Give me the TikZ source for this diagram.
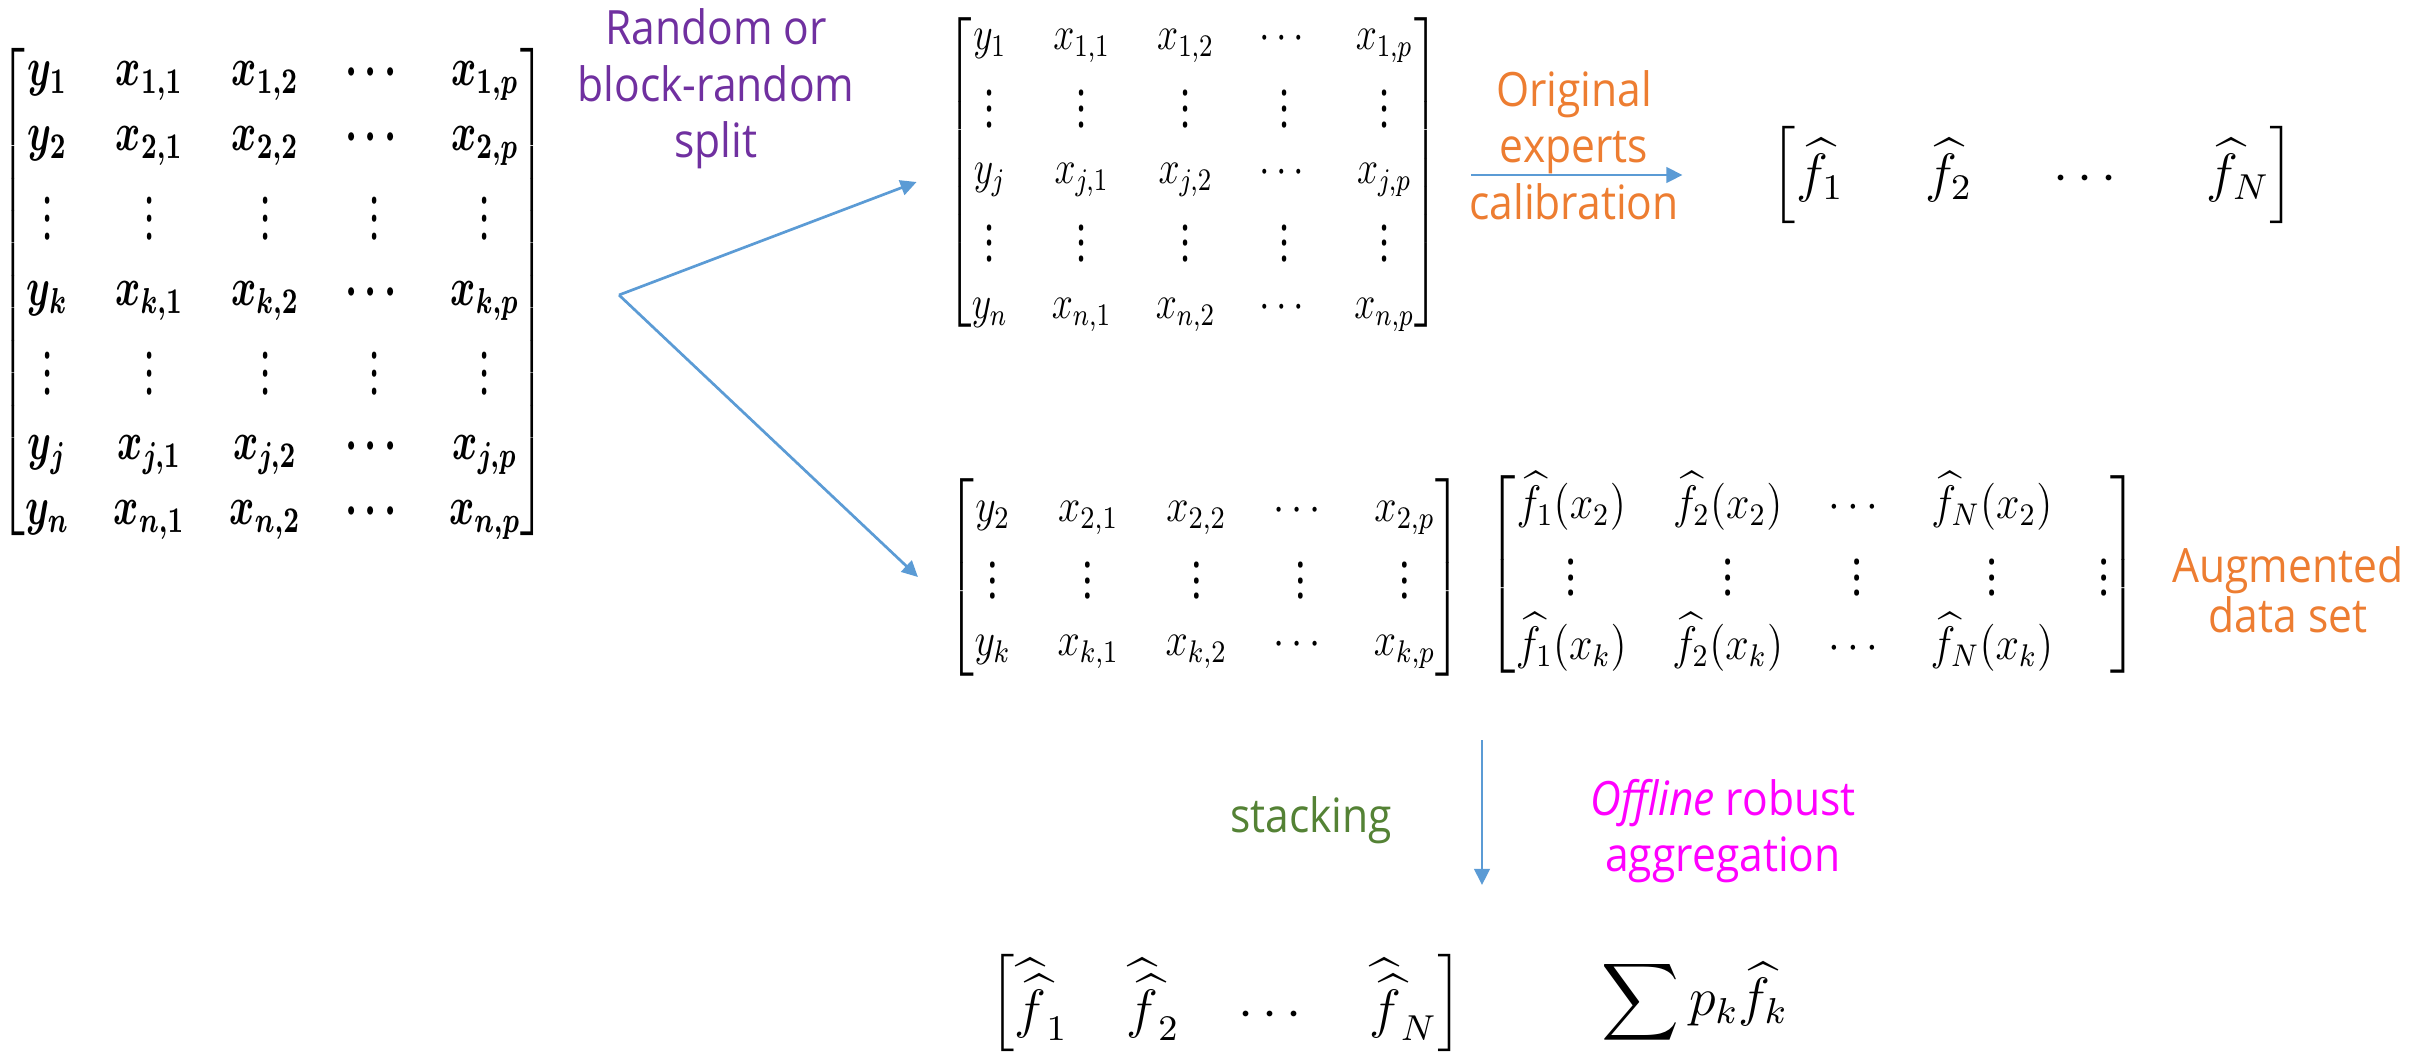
\documentclass[12pt,tikz,border=0pt]{standalone}
\usepackage{amsmath}
\usepackage{fontspec}
\setmainfont{Open Sans}
\usepackage{tikz}
\usetikzlibrary{arrows.meta, positioning}
\definecolor{arrowblue}{HTML}{5B9BD5}
\definecolor{splitpurple}{HTML}{7030A0}
\definecolor{calorange}{HTML}{ED7D31}
\definecolor{stackgreen}{HTML}{548235}
\definecolor{aggmagenta}{HTML}{FF00FF}
\tikzstyle{mat}      = [inner sep=0pt, outer sep=0pt]
\tikzstyle{bigmat}   = [mat, xscale=0.71, font=\boldmath]
\tikzstyle{smallmat} = [mat, yscale=0.87]
\tikzstyle{lbl}      = [align=center, inner sep=0pt, xscale=0.9,
                        font=\fontsize{10.5}{12.5}\selectfont]
\tikzstyle{arrow}    = [-{Triangle[length=1.25mm, width=1.2mm]}, draw=arrowblue,
                        line width=0.6pt]
% matrices
\newcommand{\fullset}{\setlength\arraycolsep{7pt}\begin{bmatrix}
    y_1 & x_{1,1} & x_{1,2} & \cdots & x_{1,p}\\
    y_2 & x_{2,1} & x_{2,2} & \cdots & x_{2,p}\\
    \vdots & \vdots & \vdots & \vdots & \vdots\\
    y_k & x_{k,1} & x_{k,2} & \cdots & x_{k,p}\\
    \vdots & \vdots & \vdots & \vdots & \vdots\\
    y_j & x_{j,1} & x_{j,2} & \cdots & x_{j,p}\\
    y_n & x_{n,1} & x_{n,2} & \cdots & x_{n,p}
  \end{bmatrix}}
\newcommand{\trainset}{\setlength\arraycolsep{7pt}\begin{bmatrix}
    y_1 & x_{1,1} & x_{1,2} & \cdots & x_{1,p}\\
    \vdots & \vdots & \vdots & \vdots & \vdots\\
    y_j & x_{j,1} & x_{j,2} & \cdots & x_{j,p}\\
    \vdots & \vdots & \vdots & \vdots & \vdots\\
    y_n & x_{n,1} & x_{n,2} & \cdots & x_{n,p}
  \end{bmatrix}}
\newcommand{\validset}{\setlength\arraycolsep{7pt}\begin{bmatrix}
    y_2 & x_{2,1} & x_{2,2} & \cdots & x_{2,p}\\
    \vdots & \vdots & \vdots & \vdots & \vdots\\
    y_k & x_{k,1} & x_{k,2} & \cdots & x_{k,p}
  \end{bmatrix}}
\newcommand{\augset}{\setlength\arraycolsep{6.5pt}\begin{bmatrix}
    \widehat{f}_1(x_2) & \widehat{f}_2(x_2) & \cdots & \widehat{f}_N(x_2) & \\
    \vdots & \vdots & \vdots & \vdots & \vdots\\
    \widehat{f}_1(x_k) & \widehat{f}_2(x_k) & \cdots & \widehat{f}_N(x_k) &
  \end{bmatrix}}
\newcommand{\expertset}{\setlength\arraycolsep{9pt}\begin{bmatrix}
    \widehat{f}_1 & \widehat{f}_2 & \cdots & \widehat{f}_N
  \end{bmatrix}}
\newcommand{\stackset}{\setlength\arraycolsep{6.5pt}\begin{bmatrix}
    \widehat{\widehat{f}}_1 & \widehat{\widehat{f}}_2 & \cdots & \widehat{\widehat{f}}_N
  \end{bmatrix}}

\begin{document}
\begin{tikzpicture}[x=0.78cm, y=-0.78cm]
  \useasboundingbox (0,0) rectangle (24.14,10.52);

  % full data set
  \node[bigmat] (data) at (2.73,2.92) {$\fullset$};

  \node[lbl, text=splitpurple] (splitlbl) at (7.16,0.89) {Random or\\block-random\\split};
  \coordinate (fork) at (6.19,2.95);

  % split parts
  \node[smallmat, xscale=0.70] (train) at (11.93,1.725) {$\trainset$};
  \node[smallmat, xscale=0.74] (valid) at (12.05,5.77) {$\validset$};
  \node[smallmat, xscale=0.78] (aug) at (18.13,5.74) {$\augset$};

  % experts
  \node[mat] (experts) at (20.33,1.75) {$\expertset$};
  \node[lbl, text=calorange] (calib) at (15.74,1.45) {Original\\experts\\calibration};
  \node[lbl, text=calorange, font=\fontsize{10.5}{11}\selectfont] (auglbl)
    at (22.88,5.90) {Augmented\\data set};

  % aggregation
  \coordinate (down top) at (14.82,7.40);
  \coordinate (down end) at (14.82,8.85);
  \node[lbl, text=stackgreen] (stack) at (13.11,8.20) {stacking};
  \node[lbl, text=aggmagenta] (offline) at (17.23,8.31) {\textit{Offline} robust\\aggregation};
  \node[mat] (stacked) at (12.26,10.03) {$\stackset$};
  \node[mat] (mix) at (16.95,10.02) {$\displaystyle\sum p_k\widehat{f}_k$};

  \draw[arrow] (fork) -- ([xshift=-0.234cm, yshift=-0.074cm]train.west);
  \draw[arrow] (fork) -- ([xshift=-0.234cm]valid.west);
  \draw[arrow, shorten <=0.25cm, shorten >=0.69cm] (train.east |- experts.west) -- (experts.west);
  \draw[arrow] (down top) -- (down end);
\end{tikzpicture}
\end{document}
